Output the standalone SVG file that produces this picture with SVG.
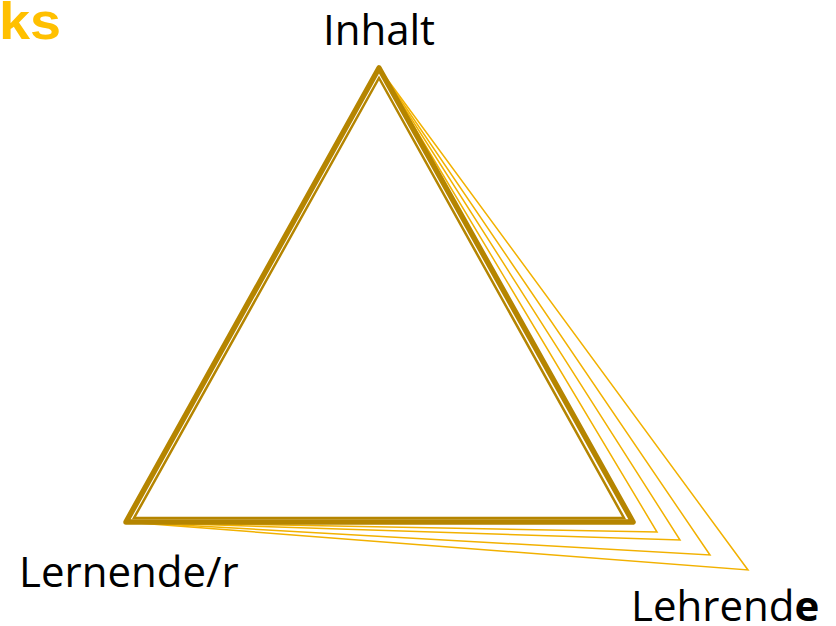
<svg xmlns="http://www.w3.org/2000/svg" width="836" height="626" viewBox="0 0 836 626">
<style>
.lbl{font-family:"Open Sans","Noto Sans","Liberation Sans",sans-serif;font-size:42px;fill:#000}
.thin{fill:none;stroke:#F2B100;stroke-width:1.5;stroke-linejoin:miter}
.thick{fill:none;stroke:#B58500;stroke-width:5.5;stroke-linejoin:round}
.inner{fill:none;stroke:#B58500;stroke-width:2.5}
</style>
<rect width="836" height="626" fill="#fff"/>
<text x="-1" y="39" textLength="62" lengthAdjust="spacingAndGlyphs" style="font-family:'Liberation Sans',Arial,sans-serif;font-weight:bold;font-size:52px;fill:#FFC000">ks</text>
<g id="connectors">
<polygon class="thin" points="379,68 748,570 126,522"/>
<polygon class="thin" points="379,68 710,555 126,522"/>
<polygon class="thin" points="379,68 680,540 126,522"/>
<polygon class="thin" points="379,68 657,532 126,522"/>
<polygon class="thick" points="379,68 633,522 126,522"/>
<polygon class="inner" points="379,78 624,518 134,518"/>
</g>
<g id="inhalt"><text class="lbl" x="379" y="45" text-anchor="middle">Inhalt</text></g>
<g id="lernende"><text class="lbl" x="19" y="587">Lernende/r</text></g>
<g id="lehrende"><text class="lbl" x="631" y="621">Lehrend<tspan font-weight="bold">e</tspan></text></g>
</svg>
